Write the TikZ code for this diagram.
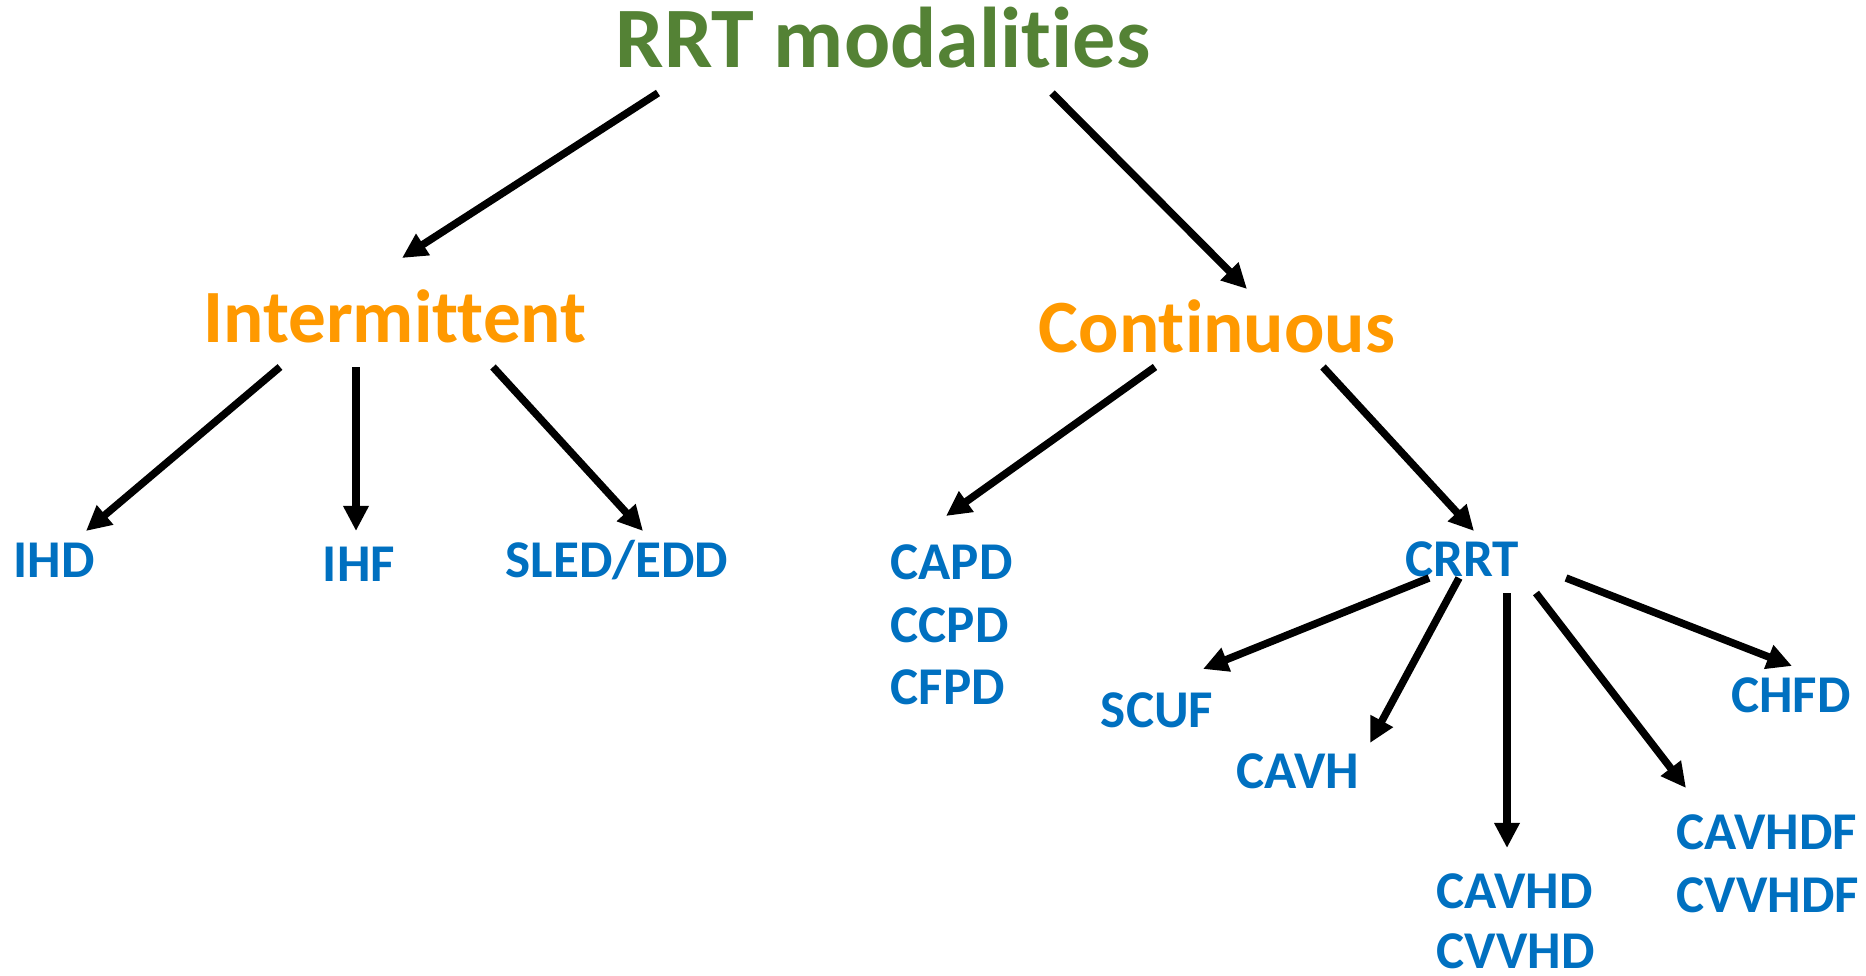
\documentclass[tikz,border=0pt]{standalone}
\usepackage{fontspec}
\setmainfont{Carlito}[Ligatures=NoCommon]
\usetikzlibrary{arrows.meta, positioning}
\definecolor{titlegreen}{RGB}{84,130,53}
\definecolor{branchorange}{RGB}{255,153,0}
\definecolor{modeblue}{RGB}{0,112,192}

\begin{document}
\begin{tikzpicture}[
        x=0.01cm, y=-0.01cm,
        heading/.style={inner sep=0, anchor=base, font=\bfseries\fontsize{24.5}{30}\selectfont, text=titlegreen},
        branch/.style={inner sep=0, anchor=base, font=\bfseries\fontsize{21.4}{26}\selectfont, text=branchorange},
        modality/.style={inner sep=0, anchor=base, font=\bfseries\fontsize{15.1}{17.8}\selectfont, text=modeblue},
        modelist/.style={modality, anchor=north west, align=left},
        arrow/.style={-{Triangle[length=0.25cm, width=0.24cm]}, line width=0.075cm}
    ]
        \useasboundingbox (0,0) rectangle (1866,976);

        \node[heading] (title) at (883,68) {RRT modalities};
        \node[branch] (inter) at (395,343) {Intermittent};
        \node[branch] (cont) at (1217,353) {Continuous};

        \node[modality] (ihd) at (54,577) {IHD};
        \node[modality] (ihf) at (359,581) {IHF};
        \node[modality] (sled) at (617,577) {SLED/EDD};
        \node[modelist] (capd) at (890,544) {CAPD\\CCPD\\CFPD};
        \node[modality] (crrt) at (1462,576) {CRRT};

        \node[modality] (scuf) at (1157,727) {SCUF};
        \node[modality] (cavh) at (1298,788) {CAVH};
        \node[modality] (chfd) at (1791,712) {CHFD};
        \node[modelist, font=\bfseries\fontsize{15.1}{17}\selectfont] (cavhd) at (1436,873) {CAVHD\\CVVHD};
        \node[modelist] (cavhdf) at (1676,814) {CAVHDF\\CVVHDF};

        % top level
        \draw[arrow] ([shift={(-225,25)}]title.base) -- ([shift={(7,-85)}]inter.base);
        \draw[arrow] ([shift={(169,25)}]title.base) -- ([shift={(30,-64)}]cont.base);

        % intermittent
        \draw[arrow] ([shift={(-115,24)}]inter.base) -- ([shift={(32,-46)}]ihd.base);
        \draw[arrow] ([shift={(-39,24)}]inter.base) -- ([shift={(-3,-50)}]ihf.base);
        \draw[arrow] ([shift={(98,24)}]inter.base) -- ([shift={(26,-46)}]sled.base);

        % continuous
        \draw[arrow] ([shift={(-62,14)}]cont.base) -- ([shift={(56,-28)}]capd.north west);
        \draw[arrow] ([shift={(106,14)}]cont.base) -- ([shift={(12,-45)}]crrt.base);

        % crrt
        \draw[arrow] ([shift={(-33,2)}]crrt.base) -- ([shift={(46,-58)}]scuf.base);
        \draw[arrow] ([shift={(-3,2)}]crrt.base) -- ([shift={(72,-45)}]cavh.base);
        \draw[arrow] ([shift={(45,17)}]crrt.base) -- ([shift={(71,-25)}]cavhd.north west);
        \draw[arrow] ([shift={(74,17)}]crrt.base) -- ([shift={(10,-26)}]cavhdf.north west);
        \draw[arrow] ([shift={(104,2)}]crrt.base) -- ([shift={(1,-46)}]chfd.base);
    \end{tikzpicture}
\end{document}
